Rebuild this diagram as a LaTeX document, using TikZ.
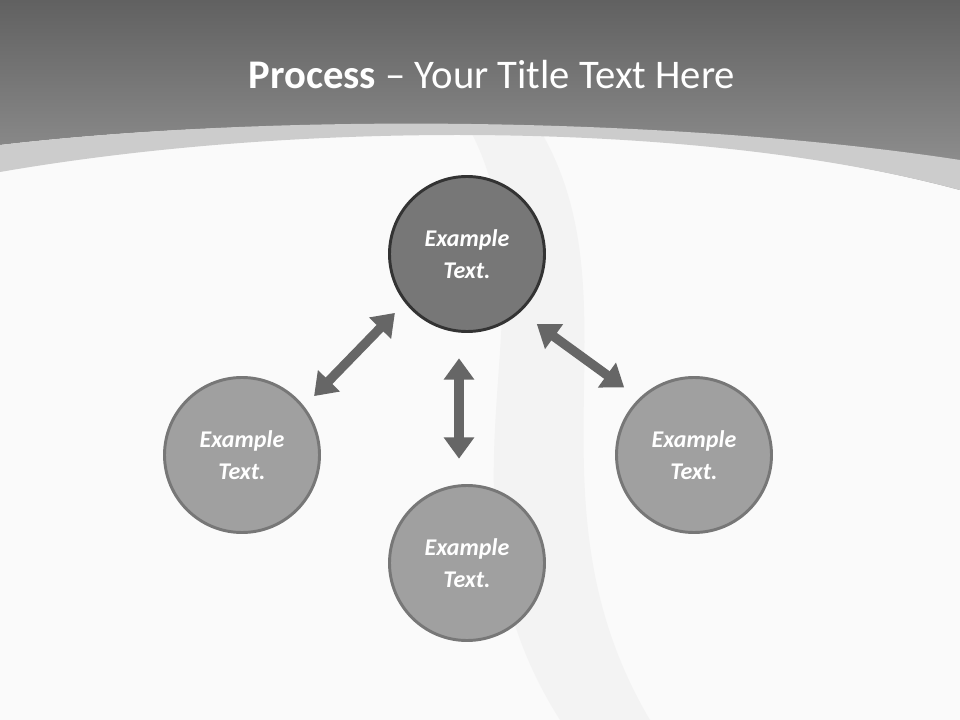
\documentclass[tikz,border=0pt]{standalone}
\usepackage{fontspec}
\setmainfont{Carlito}
\usetikzlibrary{arrows.meta,positioning}
\definecolor{arrowgray}{HTML}{666666}
\definecolor{stepfill}{HTML}{A0A0A0}
\definecolor{stepline}{HTML}{777777}
\tikzset{
  stepcircle/.style={circle, minimum size=155pt*0.75, fill=stepfill, draw=stepline, line width=2.2pt,
    text=white, font=\fontsize{18}{22}\selectfont\bfseries\itshape, align=center, inner sep=0pt},
  topcircle/.style={stepcircle, fill=stepline, draw=black!80},
  twoway/.style={{Triangle[length=16pt,width=22pt]}-{Triangle[length=16pt,width=22pt]}, line width=7pt, draw=arrowgray}
}
\begin{document}
\begin{tikzpicture}[x=0.75pt, y=-0.75pt]
  \useasboundingbox (0,0) rectangle (960,720);
  % background
  \fill[gray!4] (0,0) rectangle (960,720);
  \fill[gray!10, opacity=0.8] (470,130) .. controls (560,300) and (420,500) .. (560,720) -- (650,720) .. controls (520,500) and (640,300) .. (540,130) -- cycle;
  % header
  \shade[top color=black!62, bottom color=black!42] (0,0) -- (960,0) -- (960,190) .. controls (700,120) and (300,110) .. (0,145) -- cycle;
  \fill[black!20] (0,145) .. controls (300,110) and (700,120) .. (960,160) -- (960,190) .. controls (700,120) and (300,120) .. (0,172) -- cycle;
  \node (title) at (492,75) [text=white, font=\fontsize{30.5}{36}\selectfont] {\textbf{Process} -- Your Title Text Here};
  % steps
  \node (top) at (467,254) [topcircle] {Example\\[2pt]Text.};
  \node (left) at (242,455) [stepcircle] {Example\\[2pt]Text.};
  \node (bottom) at (467,563) [stepcircle] {Example\\[2pt]Text.};
  \node (right) at (694,455) [stepcircle] {Example\\[2pt]Text.};

  \draw [twoway, shorten <=6pt, shorten >=6pt] ([xshift=8pt,yshift=-2pt]left.north east) -- ([xshift=-8pt,yshift=2pt]top.south west);
  \draw [twoway, shorten <=19pt, shorten >=19pt] ([xshift=-6pt]top.south) -- ([xshift=-6pt]bottom.north);
  \draw [twoway, shorten <=8pt, shorten >=8pt] ([xshift=4pt,yshift=-6pt]top.south east) -- ([xshift=-4pt,yshift=4pt]right.north west);
\end{tikzpicture}
\end{document}
